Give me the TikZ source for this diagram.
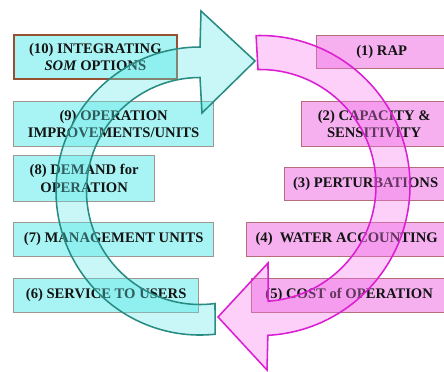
\documentclass[tikz,border=0pt]{standalone}
\usepackage{fontspec}
\setmainfont{Liberation Serif}

\definecolor{cyanbox}{RGB}{168,244,244}
\definecolor{pinkbox}{RGB}{246,176,240}
\definecolor{leftline}{RGB}{160,150,145}
\definecolor{rightline}{RGB}{180,110,120}
\definecolor{somline}{RGB}{150,80,50}
\definecolor{tealline}{RGB}{40,140,130}
\definecolor{cyanfill}{RGB}{100,230,230}
\definecolor{magline}{RGB}{220,30,210}
\definecolor{magfill}{RGB}{245,120,235}
\definecolor{textgray}{RGB}{20,20,20}

\begin{document}
\begin{tikzpicture}[x=0.025cm, y=0.025cm,
    leftbox/.style={draw=leftline, line width=0.9pt, fill=cyanbox, anchor=south west,
        align=center, inner sep=1pt, text=textgray, font=\fontsize{10.4}{12.4}\selectfont\bfseries},
    rightbox/.style={leftbox, draw=rightline, fill=pinkbox},
    cyanarrow/.style={draw=tealline, line width=1.1pt, fill=cyanfill, fill opacity=0.35, line join=miter},
    magarrow/.style={draw=magline, line width=1.1pt, fill=magfill, fill opacity=0.35, line join=miter}]

    \useasboundingbox (0,0) rectangle (444,371);

    % left column
    \node[leftbox, draw=somline, line width=1.2pt, minimum width=4.075cm, minimum height=1.1cm] (integrate) at (13,291) {(10) INTEGRATING\\\textit{SOM} OPTIONS};
    \node[leftbox, minimum width=5cm, minimum height=1.125cm] (improve) at (13,224) {(9) OPERATION\\IMPROVEMENTS/UNITS};
    \node[leftbox, minimum width=3.525cm, minimum height=1.15cm] (demand) at (13,169) {(8) DEMAND for\\OPERATION};
    \node[leftbox, minimum width=5cm, minimum height=0.85cm] (units) at (13,114) {(7) MANAGEMENT UNITS};
    \node[leftbox, minimum width=4.625cm, minimum height=0.85cm] (service) at (13,58) {(6) SERVICE TO USERS};

    % right column
    \node[rightbox, minimum width=3.25cm, minimum height=0.825cm] (rap) at (316,302) {(1) RAP};
    \node[rightbox, minimum width=3.625cm, minimum height=1.125cm] (capacity) at (301,224) {(2) CAPACITY \&\\SENSITIVITY};
    \node[rightbox, minimum width=4.05cm, minimum height=0.825cm] (perturb) at (284,170) {(3) PERTURBATIONS};
    \node[rightbox, minimum width=5cm, minimum height=0.85cm] (water) at (246,114) {(4)\ \ WATER ACCOUNTING};
    \node[rightbox, minimum width=4.875cm, minimum height=0.85cm] (cost) at (251,58) {(5) COST of OPERATION};

    % circular arrows
    \draw[cyanarrow] (200,180) ++(276:144) arc[start angle=276, end angle=90, radius=144]
        -- (201,360) -- (255,310) -- (202,258) -- (200,293.5)
        arc[start angle=90, end angle=277.6, radius=113.5] -- cycle;
    \draw[magarrow] (260,185.5) ++(91.5:150) arc[start angle=91.5, end angle=-87, radius=150]
        -- (267,1) -- (218,54) -- (268,108) -- (268.1,69.8)
        arc[start angle=-86, end angle=91, radius=116] -- cycle;

\end{tikzpicture}
\end{document}
